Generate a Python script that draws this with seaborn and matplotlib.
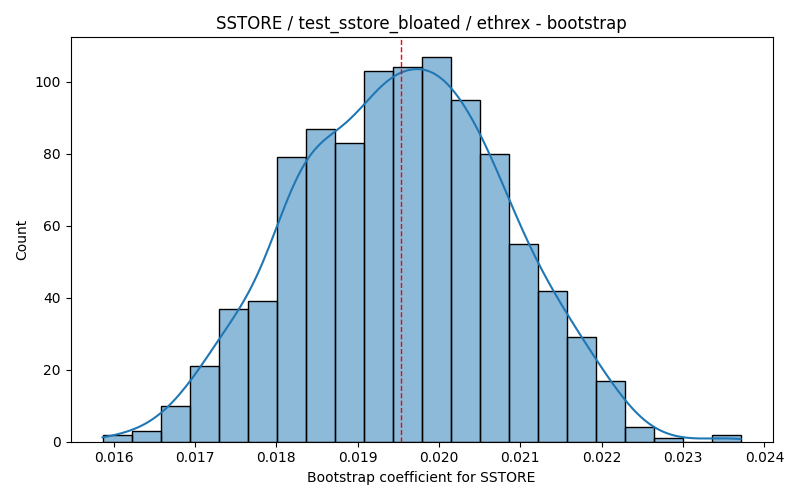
import numpy as np
import pandas as pd
import matplotlib
matplotlib.use("Agg")
import matplotlib.pyplot as plt
import seaborn as sns

# Bootstrap histogram (22 bins, 1000 resamples)
bin_start = 0.015865   # smallest bootstrap coefficient
bin_end = 0.023708     # largest bootstrap coefficient
counts = [2, 3, 10, 21, 37, 39, 79, 87, 83, 103, 104,
          107, 95, 80, 55, 42, 29, 17, 4, 1, 0, 2]
mean_coef = 0.01953

edges = np.linspace(bin_start, bin_end, len(counts) + 1)
centers = (edges[:-1] + edges[1:]) / 2
# zero-weight extremes so the kde spans the full sample range
xs = np.concatenate([[bin_start], centers, [bin_end]])
ws = np.concatenate([[0], counts, [0]])
df = pd.DataFrame({"coef": xs, "count": ws})

# weighted kde on 22 points has a tiny effective n; rescale bw to n=1000
n = sum(counts)
n_eff = n ** 2 / np.sum(np.square(counts))
bw = (n / n_eff) ** (-1 / 5)

fig, ax = plt.subplots(figsize=(8, 5), dpi=100)
sns.histplot(data=df, x="coef", weights="count", bins=len(counts),
             binrange=(bin_start, bin_end), kde=True,
             kde_kws={"bw_adjust": bw}, ax=ax)
ax.axvline(mean_coef, color="red", linestyle="--", linewidth=1)
ax.set_title("SSTORE / test_sstore_bloated / ethrex - bootstrap")
ax.set_xlabel("Bootstrap coefficient for SSTORE")
ax.set_ylabel("Count")
plt.tight_layout()
plt.savefig("out.png")
